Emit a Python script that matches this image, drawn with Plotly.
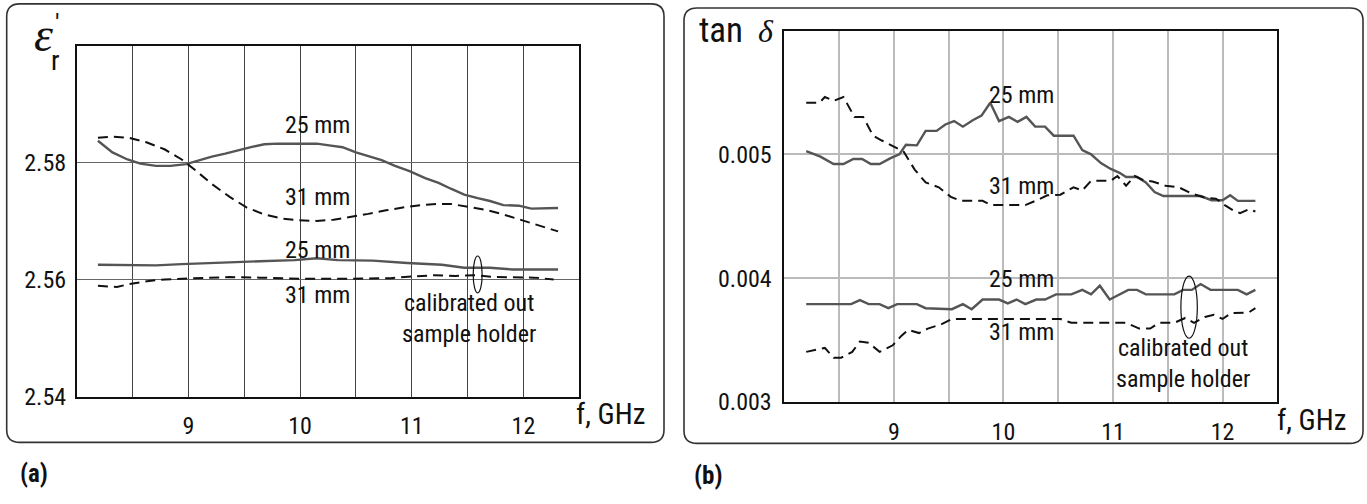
import plotly.graph_objects as go

W, H = 1367, 504

# ---------------- data: panel (a) permittivity ----------------
a_25_holder_f = [8.19, 8.32, 8.455, 8.57, 8.71, 8.84, 8.98, 9.10, 9.21, 9.33, 9.45, 9.56, 9.68, 9.80, 9.99,
                 10.15, 10.26, 10.38, 10.50, 10.61, 10.73, 10.85, 10.98, 11.12, 11.24, 11.35, 11.47, 11.59,
                 11.70, 11.82, 11.96, 12.07, 12.21, 12.31]
a_25_holder_v = [2.5838, 2.5818, 2.5806, 2.5799, 2.5795, 2.5795, 2.5798, 2.5805, 2.5811, 2.5816, 2.5822, 2.5827,
                 2.5832, 2.5833, 2.5833, 2.5833, 2.5830, 2.5827, 2.5818, 2.5812, 2.5805, 2.5795, 2.5786, 2.5774,
                 2.5766, 2.5756, 2.5746, 2.5740, 2.5735, 2.5728, 2.5727, 2.5722, 2.5722, 2.5723]

a_31_holder_f = [8.19, 8.32, 8.47, 8.63, 8.79, 8.94, 9.06, 9.21, 9.37, 9.52, 9.68, 9.84, 9.99, 10.15, 10.30,
                 10.46, 10.61, 10.77, 10.92, 11.08, 11.24, 11.35, 11.51, 11.66, 11.82, 11.97, 12.13, 12.31]
a_31_holder_v = [2.5843, 2.5845, 2.5843, 2.5835, 2.5823, 2.5806, 2.5788, 2.5764, 2.5742, 2.5724, 2.5712, 2.5705,
                 2.5702, 2.5701, 2.5703, 2.5708, 2.5713, 2.5719, 2.5724, 2.5728, 2.5730, 2.5730, 2.5725, 2.5720,
                 2.5712, 2.5703, 2.5694, 2.5683]

a_25_cal_f = [8.19, 8.47, 8.71, 8.94, 9.17, 9.41, 9.64, 9.95, 10.15, 10.34, 10.65, 10.96, 11.27, 11.47, 11.70,
              11.90, 12.05, 12.31]
a_25_cal_v = [2.5626, 2.5626, 2.5625, 2.5627, 2.5629, 2.5631, 2.5632, 2.5634, 2.5637, 2.5634, 2.5633, 2.5629,
              2.5626, 2.5621, 2.5621, 2.5618, 2.5618, 2.5618]

a_31_cal_f = [8.19, 8.36, 8.47, 8.63, 8.79, 8.98, 9.17, 9.37, 9.64, 10.03, 10.42, 10.81, 11.00, 11.20, 11.39,
              11.59, 11.74, 11.90, 12.09, 12.27]
a_31_cal_v = [2.5590, 2.5588, 2.5593, 2.5598, 2.5601, 2.5602, 2.5604, 2.5605, 2.5604, 2.5602, 2.5602, 2.5603,
              2.5606, 2.5608, 2.5607, 2.5608, 2.5605, 2.5604, 2.5604, 2.5601]

# ---------------- data: panel (b) loss tangent ----------------
b_25_holder_f = [8.20, 8.33, 8.45, 8.54, 8.63, 8.71, 8.79, 8.87, 8.97, 9.05, 9.11, 9.21, 9.29, 9.39, 9.47, 9.55,
                 9.63, 9.72, 9.80, 9.88, 9.96, 10.05, 10.13, 10.21, 10.29, 10.38, 10.46, 10.64, 10.72, 10.80,
                 10.89, 10.98, 11.06, 11.12, 11.22, 11.30, 11.38, 11.46, 11.80, 11.90, 12.00, 12.07, 12.14, 12.30]
b_25_holder_v = [0.005027, 0.004983, 0.004923, 0.004923, 0.004964, 0.004964, 0.004923, 0.004923, 0.004970,
                 0.005001, 0.005079, 0.005074, 0.005191, 0.005191, 0.005243, 0.005270, 0.005225, 0.005277,
                 0.005314, 0.005418, 0.005270, 0.005304, 0.005264, 0.005304, 0.005225, 0.005225, 0.005152,
                 0.005152, 0.005035, 0.005001, 0.004930, 0.004883, 0.004852, 0.004818, 0.004818, 0.004774,
                 0.004696, 0.004664, 0.004664, 0.004630, 0.004630, 0.004670, 0.004625, 0.004625]

b_31_holder_f = [8.20, 8.32, 8.37, 8.45, 8.54, 8.64, 8.72, 8.81, 8.89, 9.01, 9.09, 9.19, 9.29, 9.41, 9.52, 9.61,
                 9.81, 9.89, 10.20, 10.32, 10.40, 10.52, 10.64, 10.72, 10.80, 10.98, 11.04, 11.12, 11.20, 11.28,
                 11.36, 11.48, 11.60, 11.72, 11.84, 11.94, 12.02, 12.10, 12.16, 12.24, 12.30]
b_31_holder_v = [0.005418, 0.005418, 0.005465, 0.005434, 0.005465, 0.005304, 0.005304, 0.005152, 0.005113,
                 0.005061, 0.005022, 0.004878, 0.004774, 0.004735, 0.004657, 0.004625, 0.004625, 0.004591,
                 0.004591, 0.004636, 0.004670, 0.004675, 0.004735, 0.004709, 0.004787, 0.004787, 0.004826,
                 0.004748, 0.004826, 0.004792, 0.004782, 0.004748, 0.004735, 0.004683, 0.004651, 0.004643,
                 0.004591, 0.004547, 0.004526, 0.004557, 0.004539]

b_25_cal_f = [8.20, 8.61, 8.69, 8.77, 8.87, 8.95, 9.03, 9.21, 9.29, 9.53, 9.63, 9.71, 9.81, 9.96, 10.04, 10.12,
              10.20, 10.30, 10.38, 10.48, 10.62, 10.72, 10.80, 10.88, 10.97, 11.06, 11.14, 11.22, 11.30, 11.56,
              11.64, 11.72, 11.80, 11.89, 12.14, 12.22, 12.30]
b_25_cal_v = [0.003790, 0.003790, 0.003822, 0.003790, 0.003790, 0.003757, 0.003790, 0.003790, 0.003757,
              0.003749, 0.003790, 0.003749, 0.003827, 0.003827, 0.003796, 0.003827, 0.003790, 0.003827,
              0.003827, 0.003869, 0.003869, 0.003905, 0.003869, 0.003939, 0.003827, 0.003869, 0.003905,
              0.003905, 0.003869, 0.003869, 0.003905, 0.003905, 0.003952, 0.003905, 0.003905, 0.003869,
              0.003905]

b_31_cal_f = [8.20, 8.37, 8.45, 8.52, 8.62, 8.69, 8.77, 8.87, 8.99, 9.07, 9.13, 9.23, 9.31, 9.43, 9.53, 10.52,
              10.62, 11.12, 11.24, 11.34, 11.42, 11.56, 11.66, 11.74, 11.84, 11.92, 12.00, 12.08, 12.24, 12.30]
b_31_cal_v = [0.003404, 0.003436, 0.003357, 0.003357, 0.003404, 0.003488, 0.003477, 0.003404, 0.003457,
              0.003535, 0.003582, 0.003556, 0.003592, 0.003626, 0.003670, 0.003670, 0.003639, 0.003639,
              0.003592, 0.003592, 0.003639, 0.003639, 0.003678, 0.003639, 0.003686, 0.003704, 0.003670,
              0.003717, 0.003723, 0.003757]

x_tick_vals = [8.5, 9, 9.5, 10, 10.5, 11, 11.5, 12]
x_tick_text = ["", "9", "", "10", "", "11", "", "12"]
a_y_ticks = [2.54, 2.56, 2.58]
a_y_text = ["2.54", "2.56", "2.58"]
b_y_ticks = [0.003, 0.004, 0.005]
b_y_text = ["0.003", "0.004", "0.005"]

# ---------------- styling ----------------
FONT = "Roboto Condensed, DejaVu Sans Condensed, sans-serif"
SERIF = "Liberation Serif, DejaVu Serif, serif"
SOLID = dict(color="#555555", width=2.4)
DASH = dict(color="#111111", width=2.0, dash="10px,6px")

fig = go.Figure()

def add(x, y, line, xa, ya):
    fig.add_trace(go.Scatter(x=x, y=y, mode="lines", line=line, xaxis=xa, yaxis=ya,
                             showlegend=False, hoverinfo="skip"))

add(a_25_holder_f, a_25_holder_v, SOLID, "x", "y")
add(a_31_holder_f, a_31_holder_v, DASH, "x", "y")
add(a_25_cal_f, a_25_cal_v, SOLID, "x", "y")
add(a_31_cal_f, a_31_cal_v, DASH, "x", "y")
add(b_25_holder_f, b_25_holder_v, SOLID, "x2", "y2")
add(b_31_holder_f, b_31_holder_v, DASH, "x2", "y2")
add(b_25_cal_f, b_25_cal_v, SOLID, "x2", "y2")
add(b_31_cal_f, b_31_cal_v, DASH, "x2", "y2")

def px(x):
    return x / W

def py(y):
    return 1 - y / H

axis_common = dict(showline=True, linecolor="#111111", linewidth=1.6, mirror=True, ticks="",
                   zeroline=False, fixedrange=True, tickfont=dict(family=FONT, size=24, color="#111111"))

fig.update_layout(
    width=W, height=H, margin=dict(l=0, r=0, t=0, b=0),
    paper_bgcolor="white", plot_bgcolor="white",
    xaxis=dict(domain=[px(76.7), px(579.3)], range=[8, 12.5], tickmode="array", tickvals=x_tick_vals,
               ticktext=x_tick_text, showgrid=True, gridcolor="#444444", gridwidth=1.2, anchor="y",
               ticklabelstandoff=6, **axis_common),
    yaxis=dict(domain=[py(408.3), py(47.3)], range=[2.54, 2.60], tickmode="array", tickvals=a_y_ticks,
               ticktext=a_y_text, showgrid=True, gridcolor="#666666", gridwidth=1.4, anchor="x",
               ticklabelstandoff=4, **axis_common),
    xaxis2=dict(domain=[px(784.3), px(1277.3)], range=[8, 12.5], tickmode="array", tickvals=x_tick_vals,
                ticktext=x_tick_text, showgrid=True, gridcolor="#bbbbbb", gridwidth=1.5, anchor="y2",
                ticklabelstandoff=8, **axis_common),
    yaxis2=dict(domain=[py(413.3), py(31.7)], range=[0.003, 0.006], tickmode="array", tickvals=b_y_ticks,
                ticktext=b_y_text, showgrid=True, gridcolor="#bbbbbb", gridwidth=1.5, anchor="x2",
                ticklabelstandoff=6, **axis_common),
)

# rounded panel boxes (paper coords)
def rounded(x0, y0, x1, y1, r):
    X = lambda v: f"{px(v):.5f}"
    Y = lambda v: f"{py(v):.5f}"
    return (f"M {X(x0+r)} {Y(y0)} L {X(x1-r)} {Y(y0)} Q {X(x1)} {Y(y0)} {X(x1)} {Y(y0+r)} "
            f"L {X(x1)} {Y(y1-r)} Q {X(x1)} {Y(y1)} {X(x1-r)} {Y(y1)} "
            f"L {X(x0+r)} {Y(y1)} Q {X(x0)} {Y(y1)} {X(x0)} {Y(y1-r)} "
            f"L {X(x0)} {Y(y0+r)} Q {X(x0)} {Y(y0)} {X(x0+r)} {Y(y0)} Z")

shapes = [
    dict(type="path", xref="paper", yref="paper", path=rounded(6.7, 4, 664, 455, 13),
         line=dict(color="#333333", width=1.6)),
    dict(type="path", xref="paper", yref="paper", path=rounded(684, 8.3, 1363, 456, 13),
         line=dict(color="#333333", width=1.6)),
    dict(type="circle", xref="x", yref="y", x0=11.55, x1=11.63, y0=2.5578, y1=2.5641,
         line=dict(color="#111111", width=1.2)),
    dict(type="circle", xref="x2", yref="y2", x0=11.62, x1=11.77, y0=0.003514, y1=0.004017,
         line=dict(color="#111111", width=1.2)),
]
fig.update_layout(shapes=shapes)

ann = []
def label(text, x, y, xr, yr, size=24, family=FONT, xanchor="center", yanchor="middle", color="#111111"):
    ann.append(dict(text=text, x=x, y=y, xref=xr, yref=yr, showarrow=False, xanchor=xanchor,
                    yanchor=yanchor, font=dict(family=family, size=size, color=color)))

# panel (a) curve labels
label("25 mm", 10.16, 2.5865, "x", "y")
label("31 mm", 10.16, 2.5742, "x", "y")
label("25 mm", 10.16, 2.5651, "x", "y")
label("31 mm", 10.16, 2.5574, "x", "y")
label("calibrated out<br>sample holder", 11.51, 2.5534, "x", "y")
# panel (b) curve labels
label("25 mm", 10.165, 0.005478, "x2", "y2")
label("31 mm", 10.165, 0.004748, "x2", "y2")
label("25 mm", 10.165, 0.003991, "x2", "y2")
label("31 mm", 10.165, 0.003566, "x2", "y2")
label("calibrated out<br>sample holder", 11.64, 0.00331, "x2", "y2")

# axis titles
label("f, GHz", px(574), py(426), "paper", "paper", size=29, xanchor="left")
label("f, GHz", px(1275), py(432), "paper", "paper", size=29, xanchor="left")
label("<i>ε</i>", px(43), py(36), "paper", "paper", size=48, family=SERIF)
label("'", px(57.5), py(24), "paper", "paper", size=26)
label("r", px(55), py(62), "paper", "paper", size=28)
label("tan", px(721), py(31), "paper", "paper", size=35)
label("<i>δ</i>", px(766), py(32), "paper", "paper", size=32, family=SERIF)
# panel letters
label("<b>(a)</b>", px(18), py(487), "paper", "paper", size=25, xanchor="left")
label("<b>(b)</b>", px(692), py(489), "paper", "paper", size=25, xanchor="left")

fig.update_layout(annotations=ann)
fig.write_html("out.html", config={"displayModeBar": False},
               post_script="document.body.style.margin='0';document.body.style.overflow='hidden';")
